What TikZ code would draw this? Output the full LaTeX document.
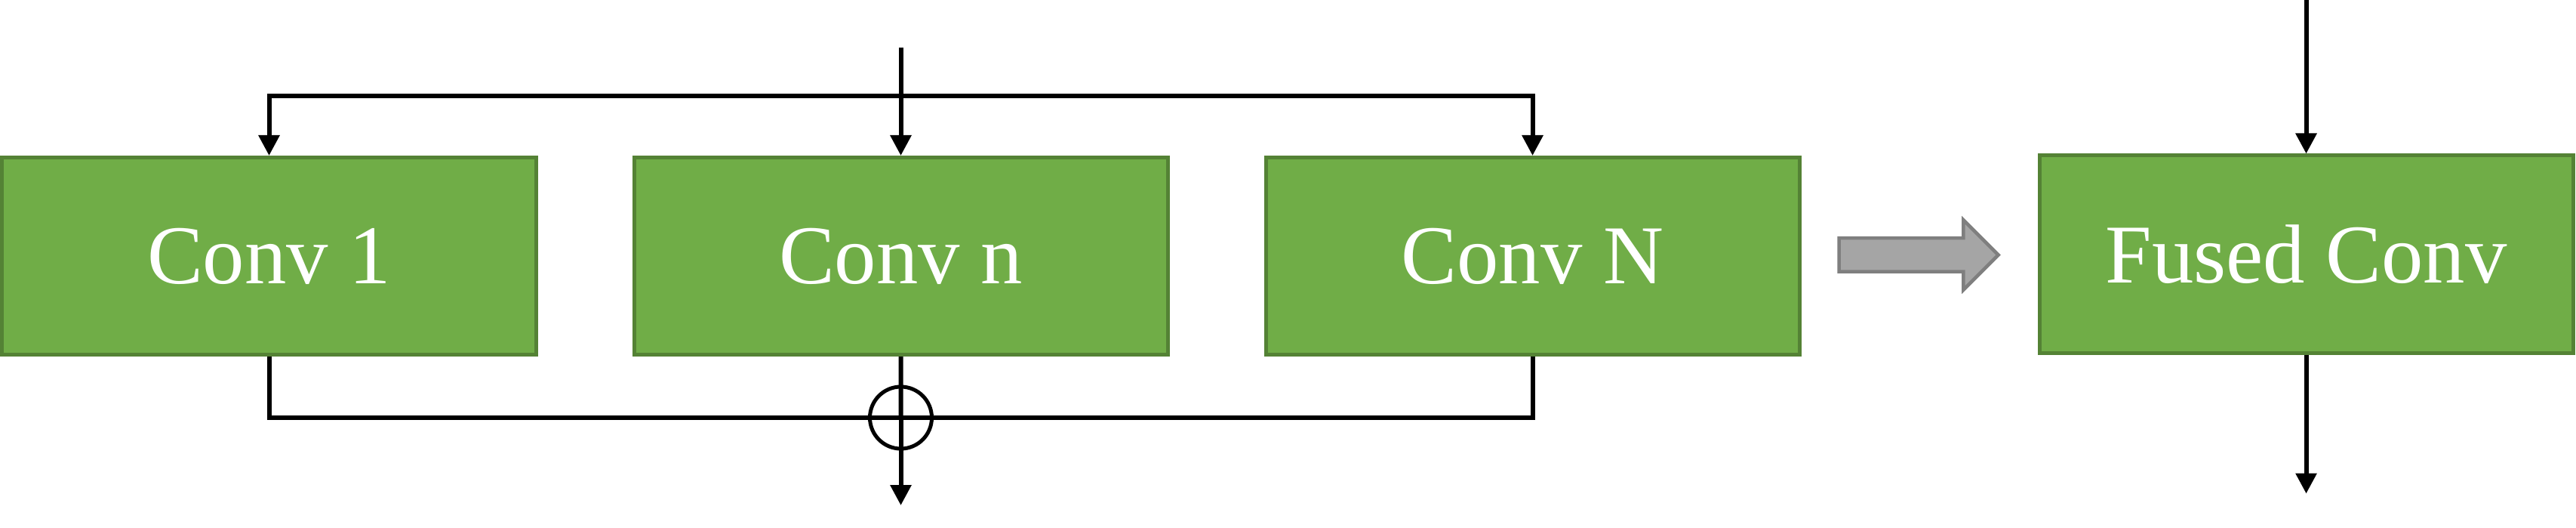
\documentclass[tikz,border=0pt]{standalone}
\usepackage{fontspec}
\setmainfont{Liberation Serif}
\usepackage{tikz}
\usetikzlibrary{shapes,arrows.meta}
\usetikzlibrary{positioning}
\definecolor{convfill}{HTML}{70AD47}
\definecolor{convdraw}{HTML}{548235}
\definecolor{fusefill}{HTML}{A5A5A5}
\definecolor{fusedraw}{HTML}{7F7F7F}
\tikzset{convbox/.style={draw=convdraw, fill=convfill, line width=0.05cm,
    minimum width=7.07cm, minimum height=2.61cm, inner sep=0pt,
    text=white, font=\fontsize{31.5}{36}\selectfont},
  sumnode/.style={circle, draw, line width=0.05cm, minimum size=0.82cm, inner sep=0pt},
  fusearrow/.style={single arrow, draw=fusedraw, fill=fusefill, line width=0.045cm,
    inner sep=0.2cm, minimum height=2.11cm, single arrow head extend=0.24cm},
  wire/.style={line width=0.06cm},
  >={Triangle[length=0.27cm, width=0.27cm]}
}

\begin{document}
\begin{tikzpicture}[on grid]
      \useasboundingbox (0,0) rectangle (34.13,-6.99);
      \node[convbox]           (conv1) at (3.565,-3.39)       {Conv 1};
      \node[convbox]           (convn) [right=8.37cm of conv1] {Conv n};
      \node[convbox]           (convN) [right=8.37cm of convn] {Conv N};
      \node[convbox]           (fused) at (30.555,-3.365)     {Fused Conv};
      \node[fusearrow]         (fuse)  at (25.31,-3.375)      {};
      \node[sumnode]           (sum)   at (11.935,-5.53)      {};

      \coordinate[above=1.43cm of convn.north] (in);
      \coordinate[above=0.79cm of convn.north] (split);
      \coordinate[below=1.16cm of sum.center]  (out);
      \coordinate[above=2.06cm of fused.north] (fin);
      \coordinate[below=1.84cm of fused.south] (fout);

      \draw[wire,->] (in) -- (convn.north);
      \draw[wire,->] (split) -| (conv1.north);
      \draw[wire,->] (split) -| (convN.north);
      \draw[wire] (conv1.south) |- (sum.center) -| (convN.south);
      \draw[wire] (convn.south) -- (sum.center);
      \draw[wire,->] (sum.center) -- (out);
      \draw[wire,->] (fin) -- (fused.north);
      \draw[wire,->] (fused.south) -- (fout);
\end{tikzpicture}
\end{document}
